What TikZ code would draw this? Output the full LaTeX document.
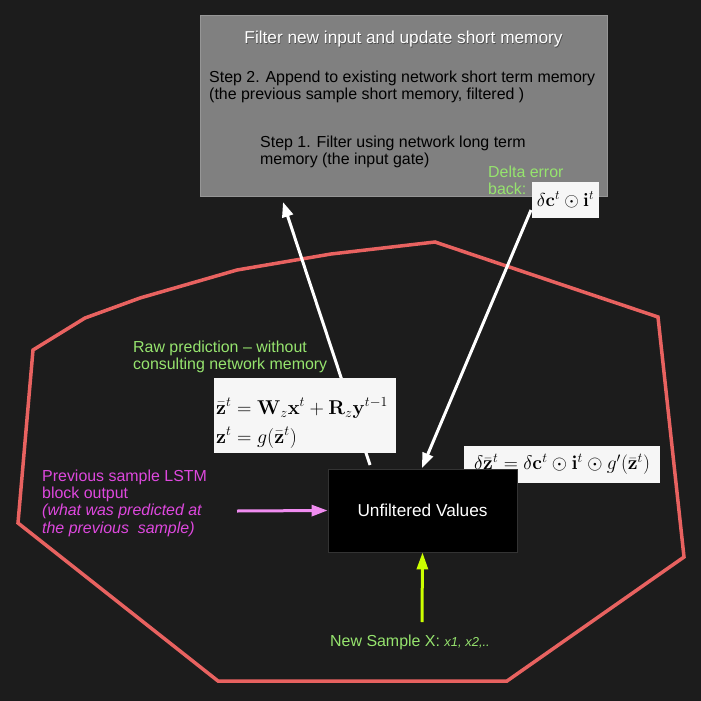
\documentclass[tikz,border=0pt]{standalone}
\usepackage{amsmath}
\usepackage{graphicx}
\usepackage[no-math]{fontspec}
\setmainfont{Liberation Sans}
\usetikzlibrary{arrows.meta}
\definecolor{bg}{RGB}{28,28,28}
\definecolor{boxgray}{RGB}{128,128,128}
\definecolor{boxedge}{RGB}{150,150,150}
\definecolor{redline}{RGB}{232,98,96}
\definecolor{greentxt}{RGB}{150,228,110}
\definecolor{magtxt}{RGB}{222,72,222}
\definecolor{pinkarr}{RGB}{240,140,240}
\definecolor{yelarr}{RGB}{204,255,0}
\definecolor{formbg}{RGB}{246,246,246}
\tikzset{
  basefont/.style={font=\fontsize{16}{17.8}\selectfont},
  mathfont/.style={font=\fontsize{17.28}{20}\selectfont},
  graybox/.style={draw=boxedge, fill=boxgray, line width=1bp, inner sep=0pt},
  blackbox/.style={draw=black!80!white, fill=black, line width=0.8bp, inner sep=0pt},
  formbox/.style={fill=formbg, inner sep=0pt},
  txt/.style={basefont, inner sep=0pt, align=left, anchor=north west},
  hull/.style={draw=redline, line width=3.5bp, line join=miter},
  whitearrow/.style={draw=white, line width=3bp, -{Triangle[width=11bp,length=15bp]}},
  pinkarrow/.style={draw=pinkarr, line width=3bp, -{Triangle[width=11bp,length=16bp]}},
  yelarrow/.style={draw=yelarr, line width=3bp, -{Triangle[width=11bp,length=17bp]}},
}
\begin{document}
\begin{tikzpicture}[x=1bp,y=-1bp]
\fill[bg] (0,0) rectangle (701,701);
\useasboundingbox (0,0) rectangle (701,701);

% red hull
\draw[hull] (33,350) -- (85,318) -- (140,298) -- (237,270) -- (331,254) -- (435,242) -- (658,317) -- (684,557) -- (507,681) -- (218,681) -- (18,523) -- cycle;

% gray box
\node[graybox, minimum width=407bp, minimum height=180bp] (filt) at (403.5,106) {};
\node[txt, anchor=base, text=black!70, font=\fontsize{17.3}{19}\selectfont] (titleshadow) at (404.2,44.7) {Filter new input and update short memory};
\node[txt, anchor=base, text=white, font=\fontsize{17.3}{19}\selectfont] (title) at (403.5,44) {Filter new input and update short memory};
\node[txt, text=black] (step2) at (209,70.5) {Step 2. Append to existing network short term memory\\(the previous sample short memory, filtered )};
\node[txt, text=black] (step1) at (260,135.5) {Step 1. Filter using network long term\\memory (the input gate)};
\node[txt, text=greentxt] (delta) at (488,165.5) {Delta error\\back:};

% coordinates for arrows
\coordinate (rawstart) at (370,465);
\coordinate (rawtip) at (283,202);
\coordinate (deltastart) at (531,210);
\coordinate (unftop) at (422,468);

\draw[whitearrow] (rawstart) -- (rawtip);
\draw[whitearrow] (deltastart) -- (unftop);

% formula boxes
\node[formbox, minimum width=67bp, minimum height=36bp, mathfont] (dcbox) at (565.5,200) {\scalebox{1.09}{$\delta\mathbf{c}^t\odot\mathbf{i}^t$}};
\node[formbox, minimum width=182bp, minimum height=75bp] (rawbox) at (305,415.5) {};
\node[anchor=base west, inner sep=0pt, mathfont] (eq1) at (216,414) {\scalebox{1.16}{$\bar{\mathbf{z}}^t=\mathbf{W}_z\mathbf{x}^t+\mathbf{R}_z\mathbf{y}^{t-1}$}};
\node[anchor=base west, inner sep=0pt, mathfont] (eq2) at (216,443) {\scalebox{1.16}{$\mathbf{z}^t=g(\bar{\mathbf{z}}^t)$}};
\node[formbox, minimum width=196bp, minimum height=37bp, mathfont] (dzbox) at (562,464.5) {\scalebox{1.135}{$\delta\bar{\mathbf{z}}^t=\delta\mathbf{c}^t\odot\mathbf{i}^t\odot g'(\bar{\mathbf{z}}^t)$}};

% unfiltered values box
\node[blackbox, minimum width=189bp, minimum height=83bp, text=white, font=\fontsize{17.3}{19}\selectfont] (unf) at (422.5,510.5) {Unfiltered Values};

% labels
\node[txt, text=greentxt] (rawlbl) at (133,340.5) {Raw prediction -- without\\consulting network memory};
\node[txt, text=magtxt, font=\fontsize{16}{17.4}\selectfont] (prevlbl) at (42,469.5) {Previous sample LSTM\\block output\\\textit{(what was predicted at}\\\textit{the previous\ \ sample)}};
\node[anchor=base west, inner sep=0pt, text=greentxt, basefont] (newlbl) at (330,646) {New Sample X: {\itshape\fontsize{13}{15}\selectfont x1, x2,..}};

% arrows into unfiltered box
\coordinate (pinkstart) at (237,511);
\coordinate (yelstart) at (422,622);
\draw[pinkarrow] (pinkstart) -- (unf.west);
\draw[yelarrow] (yelstart) -- (unf.south);
\end{tikzpicture}
\end{document}
